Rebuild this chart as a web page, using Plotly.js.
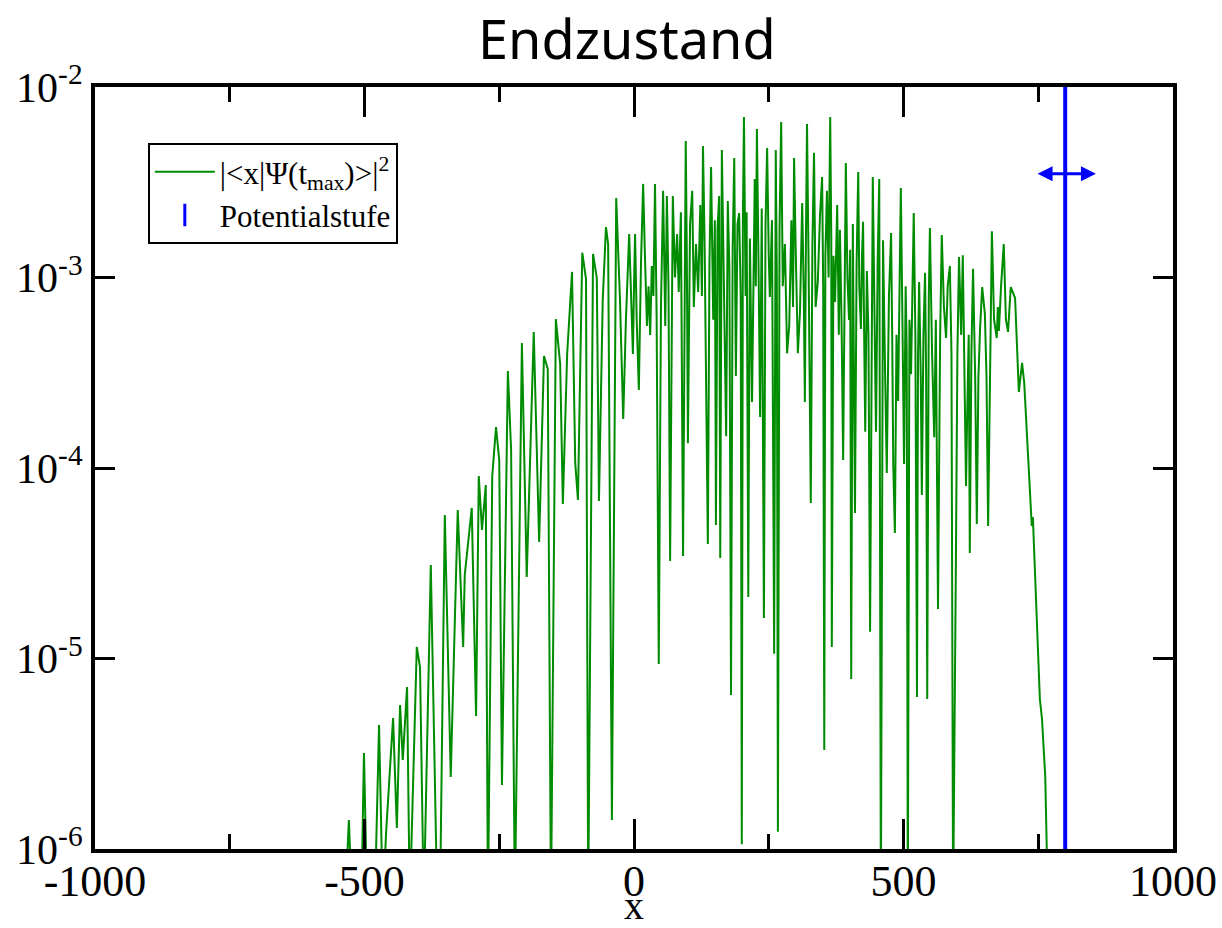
<!DOCTYPE html>
<html>
<head>
<meta charset="utf-8">
<script src="https://cdn.plot.ly/plotly-3.0.1.min.js"></script>
<style>html,body{margin:0;padding:0;background:#fff;}#chart{width:1222px;height:928px;}</style>
</head>
<body>
<div id="chart"></div>
<script>
// |<x|Psi(t_max)>|^2 (values below 1e-6 fall off the axis)
const psiX = [
  -536,-529,-523,-506,-501,-495,-481,-473,-466,-460,
  -447,-440,-434,-429,-421,-416,-403,-397,-390,-377,
  -365,-360,-351,-340,-327,-317,-314,-301,-293,-288,
  -282,-275,-271,-263,-256,-250,-245,-234,-228,-221,
  -208,-199,-186,-176,-167,-160,-154,-145,-137,-132,
  -124,-115,-109,-104,-96,-89,-85,-76,-69,-65,
  -58,-52,-48,-41,-33,-26,-20,-15,-9,-2,
  0,2,5,9,13,17,20,24,27,30,
  33,36,39,42,46,50,54,56,58,61,
  64,67,70,72,76,80,83,87,91,94,
  96,98,100,104,108,111,115,119,123,126,
  128,131,135,137,140,143,147,150,152,155,
  158,160,163,167,171,174,177,180,183,186,
  189,192,195,198,200,202,204,207,209,212,
  215,219,222,224,226,228,231,234,237,241,
  244,247,250,252,256,260,263,265,267,270,
  273,276,280,284,288,292,295,297,300,304,
  308,310,312,315,317,319,321,324,328,331,
  334,337,341,345,349,351,353,355,358,361,
  364,366,367,370,373,377,380,382,385,388,
  391,393,396,399,401,403,406,408,410,413,
  416,418,421,423,425,427,429,432,435,438,
  441,443,446,449,452,455,458,462,466,469,
  473,477,479,481,484,487,490,493,495,498,
  501,504,506,508,511,514,517,519,522,525,
  527,529,532,534,537,540,542,544,547,549,
  553,557,560,564,568,571,575,579,582,586,
  589,592,597,600,603,607,610,613,616,618,
  621,623,626,629,633,636,639,642,646,651,
  654,657,661,664,668,673,675,677,681,686,
  690,694,699,707,714,720,724,735,738,740,
  750,753,757,763,768
];
const psiY = [
  5e-7,1.42e-6,5e-7,5e-7,3.19e-6,5e-7,5e-7,4.48e-6,5e-7,1.21e-6,
  4.87e-6,1.29e-6,5.70e-6,2.93e-6,7.08e-6,5e-7,1.15e-5,9.02e-6,5e-7,3.10e-5,
  5e-7,5e-7,5.66e-5,2.39e-6,6.02e-5,1.15e-5,2.74e-5,6.17e-5,4.99e-6,9.08e-5,
  4.73e-5,8.14e-5,5e-7,9.08e-5,1.64e-4,1.10e-4,2.17e-6,3.23e-4,1.24e-4,5e-7,
  4.53e-4,2.68e-5,5.18e-4,4.09e-5,3.87e-4,3.31e-4,5e-7,6.05e-4,3.52e-4,6.47e-5,
  3.97e-4,1.07e-3,1.06e-4,6.79e-5,1.35e-3,9.82e-4,5e-7,1.33e-3,9.94e-4,6.71e-5,
  7.62e-4,1.84e-3,1.50e-3,1.42e-6,2.61e-3,7.62e-4,1.81e-4,5.98e-4,1.69e-3,3.97e-4,
  9e-4,1.69e-3,6e-4,2.57e-4,1.2e-3,3.10e-3,1.4e-3,5.56e-4,9e-4,4.99e-4,
  1.15e-3,8e-4,3.10e-3,6e-4,9.36e-6,7e-4,2.85e-3,1.3e-3,5.56e-4,2.68e-3,
  9e-4,3.25e-5,1.1e-3,2.68e-3,1.0e-3,1.69e-3,8.39e-4,2.2e-3,3.45e-5,1.6e-3,
  5.21e-3,1.3e-3,1.35e-4,1.9e-3,2.85e-3,7e-4,1.50e-3,8.39e-4,2.4e-3,8e-4,
  4.90e-3,1.5e-3,1.56e-4,3.99e-5,1.2e-3,3.80e-3,6e-4,2.0e-3,5.02e-5,1.8e-3,
  2.68e-3,3.37e-5,4.67e-3,9e-4,1.47e-4,2.52e-3,1.1e-3,6.43e-6,1.4e-3,4.24e-3,
  3.04e-4,1.9e-3,2.18e-3,8e-4,1.06e-6,2.0e-3,6.96e-3,8e-4,2.2e-3,2.10e-5,
  1.6e-3,2.22e-4,1.4e-3,3.29e-3,9e-4,6.02e-3,1.2e-3,1.85e-4,2.3e-3,1.63e-5,
  1.9e-3,4.79e-3,1.3e-3,7.90e-4,2.0e-3,1.06e-5,4.67e-3,1.0e-3,1.23e-6,1.8e-3,
  6.55e-3,9e-4,1.50e-3,4e-4,5.56e-4,2.0e-3,7e-4,4.24e-3,1.4e-3,4e-4,
  6.67e-4,1.5e-3,2.46e-3,8e-4,2.22e-4,1.6e-3,6.40e-3,1.1e-3,6.55e-5,1.5e-3,
  4.51e-3,7e-4,9.47e-4,2.1e-3,3.37e-3,9e-4,3.31e-6,1.3e-3,2.85e-3,1.0e-3,
  6.96e-3,1.6e-3,1.15e-5,1.3e-3,7.44e-4,2.4e-3,5e-4,1.78e-3,6e-4,1.10e-4,
  1.5e-3,3.99e-3,1.0e-3,5.98e-4,1.4e-3,7.80e-6,1.91e-3,4e-4,5.81e-5,1.2e-3,
  3.58e-3,9e-4,5.37e-4,1.3e-3,1.96e-3,5e-4,1.55e-4,1.08e-3,5e-4,1.38e-5,
  1.0e-3,3.37e-3,7e-4,1.55e-4,1.2e-3,3.29e-3,5e-7,1.57e-3,3e-4,9.41e-5,
  8e-4,1.71e-3,5e-4,1.05e-4,4.56e-5,5e-4,2.25e-4,1.1e-3,2.95e-3,6e-4,
  1.05e-4,9e-4,4.06e-4,5e-7,6e-4,3.11e-4,1.1e-3,2.18e-3,5e-4,6.28e-6,
  4e-4,9.47e-4,3e-4,7.22e-5,5e-4,1.06e-3,3e-4,6.13e-6,8e-4,1.82e-3,
  4e-4,1.45e-4,6e-4,1.82e-5,5e-4,1.67e-3,7e-4,4.81e-4,9e-4,1.15e-3,
  4e-4,5e-7,2.65e-5,4e-4,1.28e-3,5e-4,1.31e-3,4e-4,8.05e-5,1.79e-4,
  5e-4,3.58e-5,4e-4,1.11e-3,3e-4,5.08e-5,3e-4,5.37e-4,8.91e-4,6.43e-4,
  3e-4,4.96e-5,6e-4,1.75e-3,6e-4,4.81e-4,7e-4,5.24e-4,9e-4,1.50e-3,
  6e-4,5.18e-4,8.91e-4,7.80e-4,2.51e-4,3.56e-4,2.79e-4,7.67e-5,4.96e-5,5.53e-5,
  1.03e-5,6.13e-6,4.81e-6,2.39e-6,5e-7
];

// Potential step
const stepX = [800, 800];
const stepY = [1e-6, 1e-2];
const arrowXFrom = 746, arrowXTo = 857, arrowY = 3.5e-3;

// Axis ticks
const xTickVals = [-1000, -500, 0, 500, 1000];
const xTickText = ['-1000', '-500', '0', '500', '1000'];
const xMinorVals = [-750, -250, 250, 750];
const yTickVals = [1e-6, 1e-5, 1e-4, 1e-3, 1e-2];
const yTickText = ['10<sup>-6</sup>', '10<sup>-5</sup>', '10<sup>-4</sup>', '10<sup>-3</sup>', '10<sup>-2</sup>'];

const green = '#008c00';
const blue = '#0000ff';
const serif = 'Liberation Serif, Times New Roman, serif';

const traces = [
  {
    x: psiX, y: psiY, type: 'scatter', mode: 'lines',
    line: {color: green, width: 2},
    name: '|&lt;x|Ψ(t<sub>max</sub>)&gt;|<sup>2</sup>'
  },
  {
    x: stepX, y: stepY, type: 'scatter', mode: 'lines',
    line: {color: blue, width: 4},
    showlegend: false, legendgroup: 'step'
  },
  {
    x: [null], y: [null], type: 'scatter', mode: 'markers',
    marker: {symbol: 'line-ns-open', color: blue, size: 20, line: {color: blue, width: 3}},
    name: 'Potentialstufe', legendgroup: 'step'
  }
];

const layout = {
  width: 1222, height: 928,
  margin: {l: 95, r: 49, t: 87, b: 79},
  paper_bgcolor: '#fff', plot_bgcolor: '#fff',
  showlegend: true,
  title: {
    text: 'Endzustand',
    font: {family: 'Noto Sans, sans-serif', size: 54, color: '#000'},
    x: 0.513, xref: 'container', xanchor: 'center',
    y: 0.957, yref: 'container', yanchor: 'middle'
  },
  xaxis: {
    range: [-1000, 1000],
    tickvals: xTickVals, ticktext: xTickText,
    ticks: 'inside', ticklen: 30, tickwidth: 3, tickcolor: '#000',
    minor: {tickvals: xMinorVals, ticks: 'inside', ticklen: 15, tickwidth: 3, tickcolor: '#000', showgrid: false},
    showline: true, linewidth: 4, linecolor: '#000', mirror: 'allticks',
    showgrid: false, zeroline: false,
    ticklabelstandoff: -10,
    tickfont: {family: serif, size: 44, color: '#000'},
    title: {text: 'x', font: {family: serif, size: 40, color: '#000'}, standoff: 14}
  },
  yaxis: {
    type: 'log', range: [-6, -2],
    tickvals: yTickVals, ticktext: yTickText,
    ticks: 'inside', ticklen: 20, tickwidth: 3, tickcolor: '#000',
    showline: true, linewidth: 4, linecolor: '#000', mirror: 'allticks',
    showgrid: false, zeroline: false,
    tickfont: {family: serif, size: 42, color: '#000'}
  },
  legend: {
    x: 0.049, y: 0.9265, xanchor: 'left', yanchor: 'top',
    bgcolor: '#fff', bordercolor: '#000', borderwidth: 2,
    font: {family: serif, size: 31, color: '#000'},
    tracegroupgap: 0, itemwidth: 60
  },
  annotations: [{
    x: arrowXTo, y: Math.log10(arrowY), ax: arrowXFrom, ay: Math.log10(arrowY),
    xref: 'x', yref: 'y', axref: 'x', ayref: 'y',
    text: '', showarrow: true, arrowside: 'end+start',
    arrowhead: 2, arrowsize: 1, arrowwidth: 3, arrowcolor: blue
  }]
};

Plotly.newPlot('chart', traces, layout, {displayModeBar: false, staticPlot: true});
</script>
</body>
</html>
